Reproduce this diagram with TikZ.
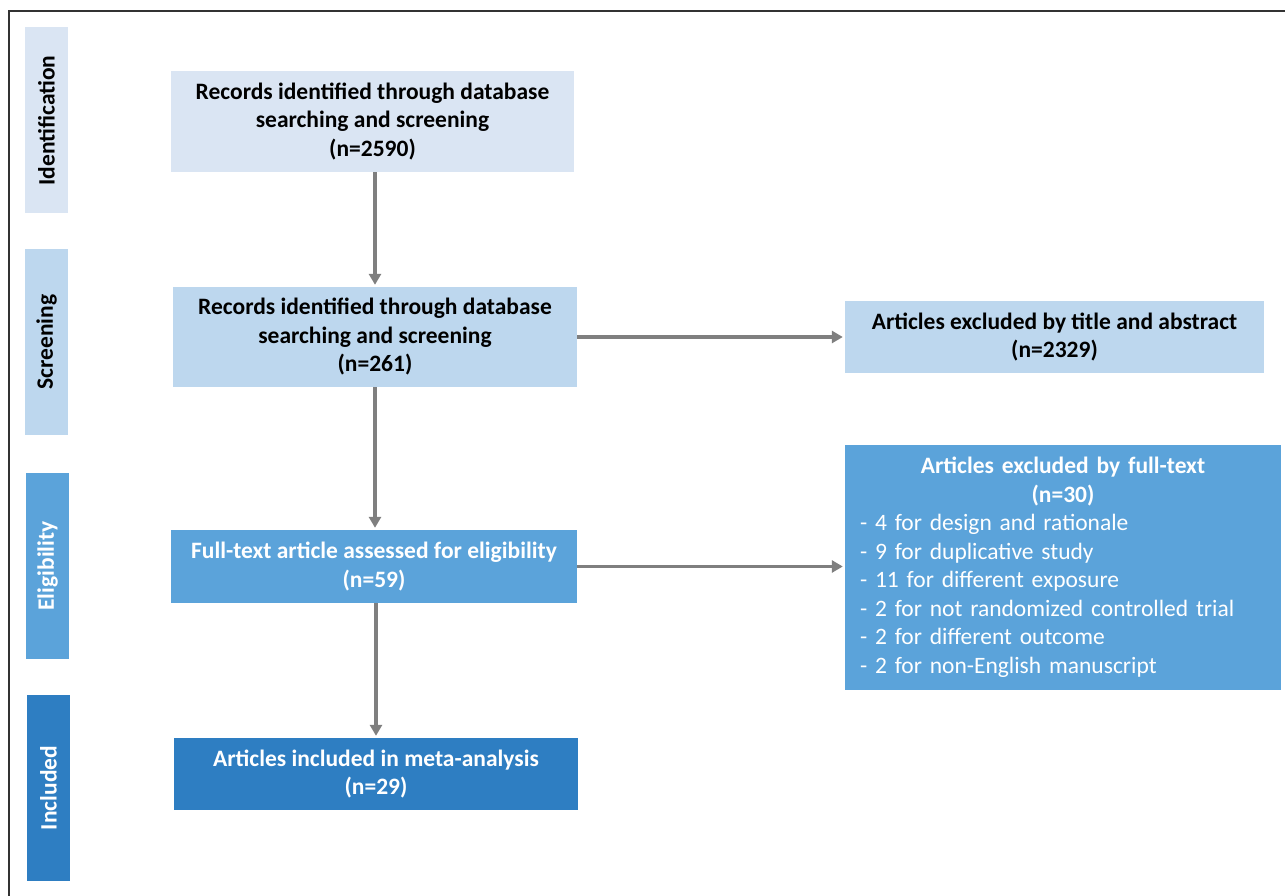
\documentclass[tikz,border=0pt]{standalone}
\usepackage{fontspec}
\setmainfont{Carlito}
\usetikzlibrary{arrows.meta}
\definecolor{cLight}{HTML}{DAE5F3}
\definecolor{cMid}{HTML}{BDD7EE}
\definecolor{cBlue}{HTML}{5BA3DA}
\definecolor{cDark}{HTML}{2E7EC2}
\definecolor{cArrow}{HTML}{7F7F7F}
\definecolor{cFrame}{HTML}{333333}
\tikzset{
  box/.style={rectangle, inner sep=0pt, align=center, font=\fontsize{23.5}{28.5}\selectfont\bfseries},
  side/.style={rectangle, inner sep=0pt, minimum width=43pt, minimum height=186pt},
  sidetext/.style={font=\fontsize{23.5}{28}\selectfont\bfseries, rotate=90},
  flow/.style={draw=cArrow, line width=3.5pt, -{Triangle[width=12pt,length=11pt]}, shorten >=2pt}
}
\begin{document}
\begin{tikzpicture}[x=1pt,y=-1pt]
\useasboundingbox (0,0) rectangle (1285,896);
\begin{scope}
\clip (0,0) rectangle (1285,896);
\draw[cFrame, line width=2pt] (9,11) rectangle (1300,910);
\end{scope}
% side labels
\node[side, fill=cLight] (sid) at (46.5,120.5) {};
\node[sidetext, text=black] (tid) at (sid.center) {Identification};
\node[side, fill=cMid] (ssc) at (46.5,342) {};
\node[sidetext, text=black] (tsc) at (ssc.center) {Screening};
\node[side, fill=cBlue] (sel) at (47.5,566) {};
\node[sidetext, text=white] (tel) at (sel.center) {Eligibility};
\node[side, fill=cDark] (sin) at (48.5,788) {};
\node[sidetext, text=white] (tin) at (sin.center) {Included};
% main boxes
\node[box, fill=cLight, minimum width=403pt, minimum height=101pt] (b1) at (372.5,121.5)
  {Records identified through database\\searching and screening\\(n=2590)};
\node[box, fill=cMid, minimum width=404pt, minimum height=100pt] (b2) at (375,337)
  {Records identified through database\\searching and screening\\(n=261)};
\node[box, fill=cBlue, text=white, minimum width=406pt, minimum height=73pt] (b3) at (374,566.5)
  {Full-text article assessed for eligibility\\(n=59)};
\node[box, fill=cDark, text=white, minimum width=404pt, minimum height=72pt] (b4) at (376,774)
  {Articles included in meta-analysis\\(n=29)};
\node[box, fill=cMid, minimum width=419pt, minimum height=72pt] (r1) at (1054.5,337)
  {Articles excluded by title and abstract\\(n=2329)};
\node[rectangle, fill=cBlue, text=white, inner xsep=15pt, inner ysep=0pt, minimum width=436pt, minimum height=245pt,
  text width=406pt, align=left, font=\fontsize{23.5}{28.5}\selectfont] (r2) at (1063,567.5)
  {\makebox[406pt][c]{\bfseries Articles excluded by full-text}\\
   \makebox[406pt][c]{\bfseries (n=30)}\\
   - 4 for design and rationale\\
   - 9 for duplicative study\\
   - 11 for different exposure\\
   - 2 for not randomized controlled trial\\
   - 2 for different outcome\\
   - 2 for non-English manuscript};
% connectors
\draw[flow] (b1.south -| b2.north) -- (b2.north);
\draw[flow] (b2.south) -- (b2.south |- b3.north);
\draw[flow] (b3.south -| b4.north) -- (b4.north);
\draw[flow] (b2.east) -- (b2.east -| r1.west);
\draw[flow] (b3.east) -- (b3.east -| r2.west);
\end{tikzpicture}
\end{document}
